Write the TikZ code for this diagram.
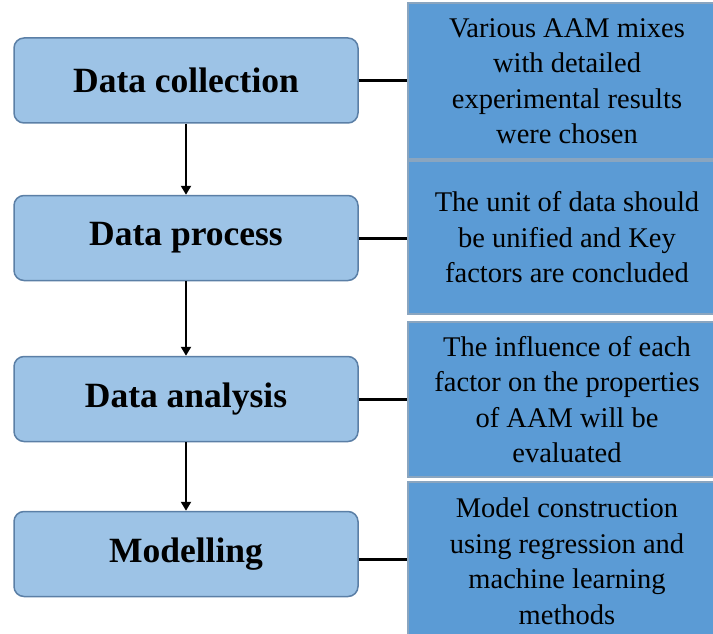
\documentclass[tikz,border=0pt]{standalone}
\usepackage{fontspec}
\setmainfont{Liberation Serif}
\newfontfamily\notefont{LiberationSerif-Regular.ttf}
\usetikzlibrary{arrows.meta}
\definecolor{stagefill}{HTML}{9DC3E6}
\definecolor{stageline}{HTML}{5B7FA6}
\definecolor{notefill}{HTML}{5B9BD5}
\definecolor{noteline}{HTML}{8AA5BF}
\begin{document}
\begin{tikzpicture}[x=1pt,y=-1pt,
  stage/.style={draw=stageline, line width=1.5pt, fill=stagefill,
    rounded corners=10pt, minimum width=344pt, minimum height=85pt,
    inner sep=0pt, text=black,
    font=\fontsize{35.5}{40}\selectfont\bfseries},
  note/.style={draw=noteline, line width=1.2pt, fill=notefill,
    minimum width=318pt, inner sep=0pt, align=center, text=black,
    font=\notefont\fontsize{28.5}{35.5}\selectfont},
  flow/.style={line width=2.4pt, -{Triangle[length=9pt,width=10pt]}},
  link/.style={line width=3pt}]
\path[use as bounding box] (0,0) rectangle (713,634);
\clip (0,0) rectangle (713,634);

% workflow stages
\node[stage] (s1) at (186,80.5) {Data collection};
\node[stage] (s2) at (186,238) {Data process};
\node[stage] (s3) at (186,399) {Data analysis};
\node[stage] (s4) at (186,554) {Modelling};

% descriptions of each stage
\node[note, minimum height=156pt] (n1) at (567,81)
  {Various AAM mixes\\with detailed\\experimental results\\were chosen};
\node[note, minimum height=153pt] (n2) at (567,237.5)
  {The unit of data should\\be unified and Key\\factors are concluded};
\node[note, minimum height=155pt] (n3) at (567,399.5)
  {The influence of each\\factor on the properties\\of AAM will be\\evaluated};
\node[note, minimum height=158pt] (n4) at (567,561)
  {Model construction\\using regression and\\machine learning\\methods};

% sequence arrows
\draw[flow] (s1) -- (s2);
\draw[flow] (s2) -- (s3);
\draw[flow] (s3) -- (s4);

% links to descriptions
\draw[link] (s1.east) -- (s1.east -| n1.west);
\draw[link] (s2.east) -- (s2.east -| n2.west);
\draw[link] (s3.east) -- (s3.east -| n3.west);
\draw[link] ([yshift=-5pt]s4.east) -- ([yshift=-5pt]s4.east -| n4.west);
\end{tikzpicture}
\end{document}
